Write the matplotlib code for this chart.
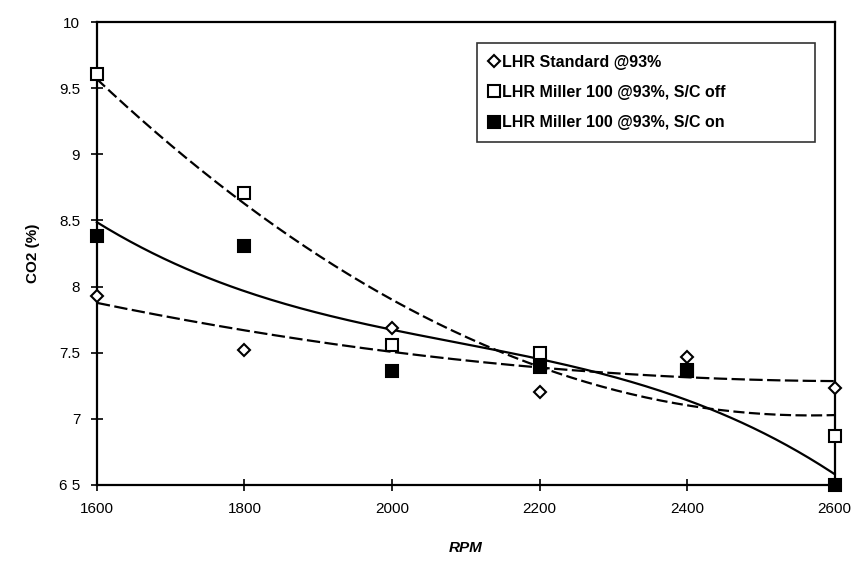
import numpy as np
import matplotlib
matplotlib.use("Agg")
import matplotlib.pyplot as plt

plt.rcParams['font.family'] = ['Liberation Sans', 'DejaVu Sans']

rpm = [1600, 1800, 2000, 2200, 2400, 2600]
std_93 = [7.93, 7.52, 7.69, 7.20, 7.47, 7.23]
miller_off = [9.61, 8.71, 7.56, 7.50, 7.37, 6.87]
miller_on = [8.38, 8.31, 7.36, 7.39, 7.36, 6.50]
labels = ["LHR Standard @93%", "LHR Miller 100 @93%, S/C off", "LHR Miller 100 @93%, S/C on"]
xticks = [1600, 1800, 2000, 2200, 2400, 2600]
yticks = [6.5, 7, 7.5, 8, 8.5, 9, 9.5, 10]
yticklabels = ["6 5", "7", "7.5", "8", "8.5", "9", "9.5", "10"]

fig = plt.figure(figsize=(8.65, 5.73), dpi=100)
ax = fig.add_axes([0.112, 0.1536, 0.853, 0.808])

xs = np.linspace(1600, 2600, 200)
series = [
    (std_93, 'D', 'white', 6.5, (0, (6, 2)), 2),
    (miller_off, 's', 'white', 8, (0, (5, 2)), 2),
    (miller_on, 's', 'black', 8, '-', 3),
]
handles = []
for (vals, mk, fc, ms, ls, order), lab in zip(series, labels):
    coef = np.polyfit(rpm, vals, order)
    ax.plot(xs, np.polyval(coef, xs), color='black', lw=1.6, ls=ls, clip_on=False, zorder=2)
    h, = ax.plot(rpm, vals, ls='none', marker=mk, ms=ms, mfc=fc, mec='black', mew=1.5,
                 clip_on=False, zorder=3, label=lab)
    handles.append(h)

ax.set_xlim(1600, 2600)
ax.set_ylim(6.5, 10)
ax.set_xticks(xticks)
ax.set_yticks(yticks)
ax.set_yticklabels(yticklabels)
ax.tick_params(direction='inout', length=8, width=1.2, labelsize=11, pad=8)
for s in ax.spines.values():
    s.set_linewidth(1.6)

ax.set_xlabel("RPM", fontsize=11, fontweight='bold', style='italic', labelpad=18)
ax.set_ylabel("CO2 (%)", fontsize=11, fontweight='bold', labelpad=14)

leg = ax.legend(handles=handles, loc='upper left', bbox_to_anchor=(0.515, 0.955, 0.458, 0.0),
                mode='expand', frameon=True, fancybox=False, handlelength=0.6, handletextpad=0.2,
                labelspacing=0.95, borderpad=0.75, borderaxespad=0,
                prop={'size': 11.5, 'weight': 'bold'})
leg.get_frame().set_edgecolor('black')
leg.get_frame().set_linewidth(1.2)

fig.savefig("out.png", dpi=100)
